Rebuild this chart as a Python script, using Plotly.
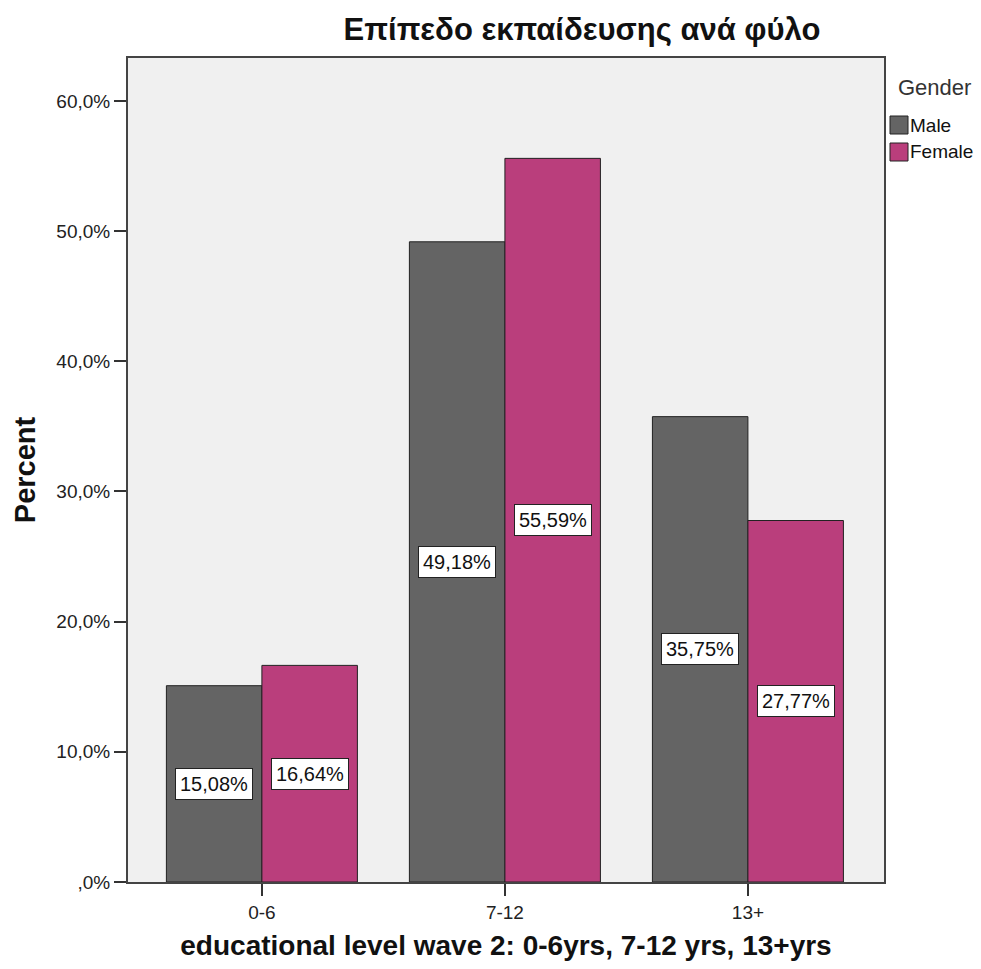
import plotly.graph_objects as go

categories = ["0-6", "7-12", "13+"]
male = [15.08, 49.18, 35.75]
female = [16.64, 55.59, 27.77]
y_ticks = [0, 10, 20, 30, 40, 50, 60]
y_tick_labels = [",0%", "10,0%", "20,0%", "30,0%", "40,0%", "50,0%", "60,0%"]
series_names = ["Male", "Female"]
series_colors = ["#646464", "#BA3E7C"]

FONT = "Liberation Sans, Arial, sans-serif"
W, H = 981, 969
ML, MR, MT, MB = 128, 97, 58, 87
PW, PH = W - ML - MR, H - MT - MB
bar_w = 0.393
xs = list(range(len(categories)))


def px_x(px):
    return (px - ML) / PW


def px_y(py):
    return (H - MB - py) / PH


fig = go.Figure()
for name, vals, col, off in [("Male", male, series_colors[0], -bar_w),
                             ("Female", female, series_colors[1], 0)]:
    fig.add_trace(go.Bar(
        x=xs, y=vals, name=name, width=bar_w, offset=off,
        marker=dict(color=col, line=dict(color="#222222", width=1)),
        showlegend=False,
    ))


def fmt(v):
    return f"{v:.2f}".replace(".", ",") + "%"


# boxed value labels centred in each bar
for vals, sign in [(male, -1), (female, 1)]:
    for i, v in enumerate(vals):
        fig.add_annotation(x=i + sign * bar_w / 2, y=v / 2, xref="x", yref="y",
                           text=fmt(v), showarrow=False, bgcolor="white",
                           bordercolor="#222222", borderwidth=1, borderpad=4,
                           font=dict(family=FONT, size=20, color="#111111"))

# legend drawn as swatches + labels in the right margin
fig.add_annotation(x=px_x(896), y=px_y(88), xref="paper", yref="paper",
                   text="Gender", showarrow=False, xanchor="left", yanchor="middle",
                   font=dict(family=FONT, size=22, color="#333333"))
for k, (name, col) in enumerate(zip(series_names, series_colors)):
    cy = 125 + k * 27
    fig.add_shape(type="rect", xref="paper", yref="paper",
                  x0=px_x(890), x1=px_x(908), y0=px_y(cy + 9), y1=px_y(cy - 9),
                  fillcolor=col, line=dict(color="#222222", width=1))
    fig.add_annotation(x=px_x(908), y=px_y(cy), xref="paper", yref="paper",
                       text=name, showarrow=False, xanchor="left", yanchor="middle",
                       font=dict(family=FONT, size=19, color="#111111"))

fig.update_layout(
    width=W, height=H,
    margin=dict(l=ML, r=MR, t=MT, b=MB),
    paper_bgcolor="white",
    plot_bgcolor="#F0F0F0",
    font=dict(family=FONT, size=19, color="#222222"),
    title=dict(text="<b>Επίπεδο εκπαίδευσης ανά φύλο</b>",
               x=px_x(582), xref="paper", xanchor="center", y=1 - 29 / H, yanchor="middle",
               font=dict(family=FONT, size=31, color="#111111")),
    showlegend=False,
)
fig.update_xaxes(
    range=[-0.551, 2.56],
    tickmode="array", tickvals=xs, ticktext=categories,
    ticks="outside", ticklen=12, tickcolor="#333333", tickwidth=1.5,
    showline=True, linecolor="#444444", linewidth=2, mirror=True,
    showgrid=False, zeroline=False,
    tickfont=dict(family=FONT, size=19, color="#222222"),
    title=dict(text="<b>educational level wave 2: 0-6yrs, 7-12 yrs, 13+yrs</b>",
               font=dict(family=FONT, size=28, color="#111111"), standoff=14),
)
fig.update_yaxes(
    range=[0, 63.3],
    tickmode="array", tickvals=y_ticks, ticktext=y_tick_labels,
    ticks="outside", ticklen=12, tickcolor="#333333", tickwidth=1.5,
    showline=True, linecolor="#444444", linewidth=2, mirror=True,
    showgrid=False, zeroline=False,
    tickfont=dict(family=FONT, size=19, color="#222222"),
    title=dict(text="<b>Percent</b>",
               font=dict(family=FONT, size=29, color="#111111"), standoff=12),
)

fig.write_html("out.html")
